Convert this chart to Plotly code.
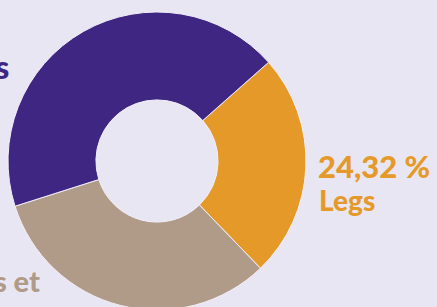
import plotly.graph_objects as go

W, H = 437, 310

labels = ["Legs", "Cotisations et dons", "Dons"]
values = [24.32, 32.30, 43.38]
colors = ["#e59929", "#b09b89", "#3e2682"]
bg = "#e9e6f3"

fig = go.Figure(go.Pie(
    labels=labels, values=values, sort=False, direction="clockwise",
    rotation=48.5, hole=0.41,
    marker=dict(colors=colors, line=dict(color="#f2eff8", width=1)),
    textinfo="none", hoverinfo="label+percent", showlegend=False,
    domain=dict(x=[8 / W, 306 / W], y=[0, 298 / H]),
))

def px(x): return x / W
def py(y): return (H - y) / H

FONT = "Lato"
ann = [
    dict(text="24,32 %", x=px(316), y=py(166), size=31, color=colors[0], xanchor="left"),
    dict(text="Legs", x=px(317), y=py(200), size=28, color=colors[0], xanchor="left"),
    dict(text="Dons", x=px(11), y=py(66), size=33, color=colors[2], xanchor="right"),
    dict(text="Cotisations et", x=px(42), y=py(280), size=29, color=colors[1], xanchor="right"),
]
for a in ann:
    fig.add_annotation(text=a["text"], x=a["x"], y=a["y"], xref="paper", yref="paper",
                       xanchor=a["xanchor"], yanchor="middle", showarrow=False,
                       font=dict(family=FONT, size=a["size"], color=a["color"], weight=900))

fig.update_layout(width=W, height=H, margin=dict(l=0, r=0, t=0, b=0),
                  paper_bgcolor=bg, plot_bgcolor=bg)
fig.write_html("out.html", config={"displayModeBar": False},
               post_script="document.body.style.margin='0';document.body.style.overflow='hidden';")
